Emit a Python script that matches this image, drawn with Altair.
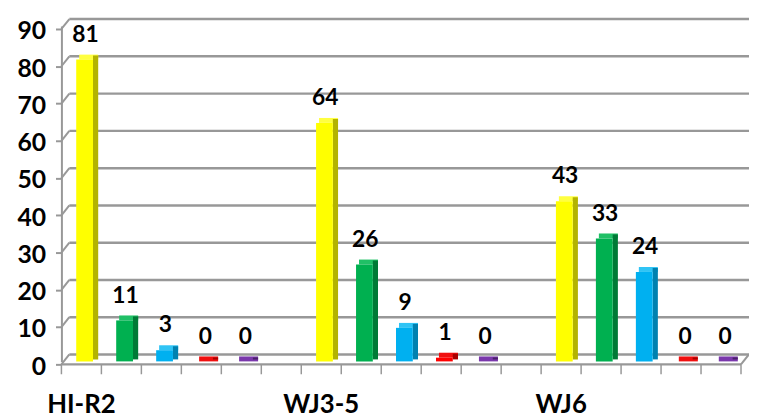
import altair as alt
import pandas as pd

groups = ["HI-R2", "WJ3-5", "WJ6"]
series = ["S1", "S2", "S3", "S4", "S5"]
values_hir2 = [81, 11, 3, 0, 0]
values_wj35 = [64, 26, 9, 1, 0]
values_wj6 = [43, 33, 24, 0, 0]
front_colors = ["#FFFF00", "#00B050", "#00B0F0", "#FF0000", "#7030A0"]
side_colors = ["#B3B300", "#007A36", "#0081B0", "#A80000", "#4A1F6B"]
top_colors = ["#FFFF40", "#20C066", "#30C4F5", "#F01010", "#7A38AC"]
y_ticks = list(range(0, 100, 10))
slots_per_group = 6
n_slots = 17
x_end = 17.2

all_values = [values_hir2, values_wj35, values_wj6]
rows = []
for gi, g in enumerate(groups):
    for si, s in enumerate(series):
        slot = gi * slots_per_group + si
        rows.append(dict(group=g, series=s, value=all_values[gi][si], zero=0,
                         x0=slot + 0.37, x1=slot + 0.79, x2=slot + 0.92,
                         xl=slot + 0.6, front=front_colors[si],
                         side=side_colors[si], top=top_colors[si]))
bars = pd.DataFrame(rows)

cats = pd.DataFrame(dict(group=groups,
                         xc=[gi * slots_per_group + 0.5 for gi in range(len(groups))],
                         y=[0] * len(groups)))
grid = pd.DataFrame(dict(v=y_ticks, a=[0] * len(y_ticks), b=[x_end] * len(y_ticks)))
floor = pd.DataFrame(dict(v=[0], a=[0], b=[n_slots]))
ticks = pd.DataFrame(dict(t=list(range(n_slots + 1)), z=[0] * (n_slots + 1)))

xs = alt.Scale(domain=[0, x_end], nice=False, zero=False)
ys = alt.Scale(domain=[0, 90], nice=False, zero=False)
GRAY = "#989898"
FONT = "Lato"

yaxis = alt.Axis(values=y_ticks, grid=False, domain=True, domainColor=GRAY,
                 domainWidth=2, tickColor=GRAY, tickWidth=2, tickSize=6,
                 tickOffset=3, labelOffset=2, labelPadding=10, labelFont=FONT,
                 labelFontSize=25, labelFontWeight="bold", labelColor="black",
                 title=None)


def Y(field):
    return alt.Y(field, scale=ys, axis=yaxis)


def X(field):
    return alt.X(field, scale=xs, axis=None)


gridlines = alt.Chart(grid).mark_rule(color=GRAY, strokeWidth=2.5, xOffset=8, yOffset=-7, y2Offset=-7).encode(
    x=X("a:Q"), x2="b:Q", y=Y("v:Q"), y2="v:Q")

diagonals = alt.Chart(grid).mark_rule(color=GRAY, strokeWidth=2, x2Offset=8, yOffset=3, y2Offset=-7).encode(
    x=X("a:Q"), x2="a:Q", y=Y("v:Q"), y2="v:Q")

floor_front = alt.Chart(floor).mark_rule(color=GRAY, strokeWidth=2.2, yOffset=3, y2Offset=3).encode(
    x=X("a:Q"), x2="b:Q", y=Y("v:Q"), y2="v:Q")

floor_right = alt.Chart(floor).mark_rule(color=GRAY, strokeWidth=2, x2Offset=8, yOffset=3, y2Offset=-7).encode(
    x=X("b:Q"), x2="b:Q", y=Y("v:Q"), y2="v:Q")

floor_ticks = alt.Chart(ticks).mark_rule(color=GRAY, strokeWidth=1.5, yOffset=3, y2Offset=13).encode(
    x=X("t:Q"), y=Y("z:Q"), y2="z:Q")

side = alt.Chart(bars).mark_bar(yOffset=-4, y2Offset=-2).encode(
    x=X("x1:Q"), x2="x2:Q", y=Y("value:Q"), y2="zero:Q",
    color=alt.Color("side:N", scale=None))

top = alt.Chart(bars).mark_bar(xOffset=3, yOffset=-5).encode(
    x=X("x0:Q"), x2="x2:Q", y=Y("value:Q"), y2="value:Q",
    color=alt.Color("top:N", scale=None))

front = alt.Chart(bars).mark_bar().encode(
    x=X("x0:Q"), x2="x1:Q", y=Y("value:Q"), y2="zero:Q",
    color=alt.Color("front:N", scale=None))

labels = alt.Chart(bars).mark_text(font=FONT, fontSize=23, fontWeight="bold", color="black",
                                   baseline="alphabetic", dy=-18).encode(
    x=X("xl:Q"), y=Y("value:Q"), text="value:Q")

cat_labels = alt.Chart(cats).mark_text(font=FONT, fontSize=26, fontWeight="bold", color="black",
                                       baseline="alphabetic", dy=52).encode(
    x=X("xc:Q"), y=Y("y:Q"), text="group:N")

chart = alt.layer(gridlines, diagonals, floor_front, floor_right, floor_ticks,
                  top, side, front, labels, cat_labels).properties(
    width=695, height=339,
    autosize=alt.AutoSizeParams(type="none"),
    padding={"left": 54, "top": 16, "right": 0, "bottom": 55},
    background="white",
).configure_view(stroke=None)

chart.save("out.html", embed_options={"renderer": "svg", "actions": False})
